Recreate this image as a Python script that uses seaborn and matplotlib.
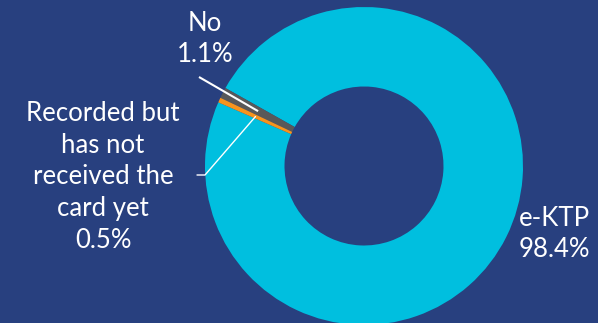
import numpy as np
import matplotlib
matplotlib.use("Agg")
import matplotlib.pyplot as plt
import seaborn as sns

# Card ownership shares
categories = ["e-KTP", "No", "Recorded but\nhas not\nreceived the\ncard yet"]
shares = [98.4, 1.1, 0.5]
colors = ["#00BFDF", "#595959", "#F7941D"]

BG = "#28407F"

sns.set_theme(style="white")
plt.rcParams["font.family"] = ["Lato", "DejaVu Sans"]

W, H = 598, 323
fig = plt.figure(figsize=(W / 100, H / 100), dpi=100, facecolor=BG)
ax = fig.add_axes([0, 0, 1, 1])
ax.set_facecolor(BG)

cx, cy, R = 364, H - 166, 159
wedges, _ = ax.pie(shares, colors=colors, startangle=156.4, counterclock=True,
                   radius=R, center=(cx, cy),
                   wedgeprops=dict(width=R * 0.5, linewidth=0))

ax.set_xlim(0, W)
ax.set_ylim(0, H)
ax.set_aspect("equal")
ax.axis("off")

def ring_point(w, r):
    a = np.deg2rad((w.theta1 + w.theta2) / 2)
    return cx + r * np.cos(a), cy + r * np.sin(a)

txt = dict(color="white", fontsize=18.5, ha="center", va="center", linespacing=1.33)

# e-KTP label
ax.text(554, H - 234, f"{categories[0]}\n{shares[0]}%", **txt)

# "No" label with leader line
ax.text(205, H - 39, f"{categories[1]}\n{shares[1]}%", **txt)
px, py = ring_point(wedges[1], R * 0.75)
ax.plot([199, px], [H - 77, py], color="white", lw=1.5, solid_capstyle="butt")

# "Recorded..." label with elbow leader line
ax.text(103, H - 177, f"{categories[2]}\n{shares[2]}%", **txt)
px, py = ring_point(wedges[2], R * 0.75)
ax.plot([197, 205, px], [H - 175, H - 175, py], color="white", lw=1.0)

fig.savefig("out.png", dpi=100, facecolor=BG)
